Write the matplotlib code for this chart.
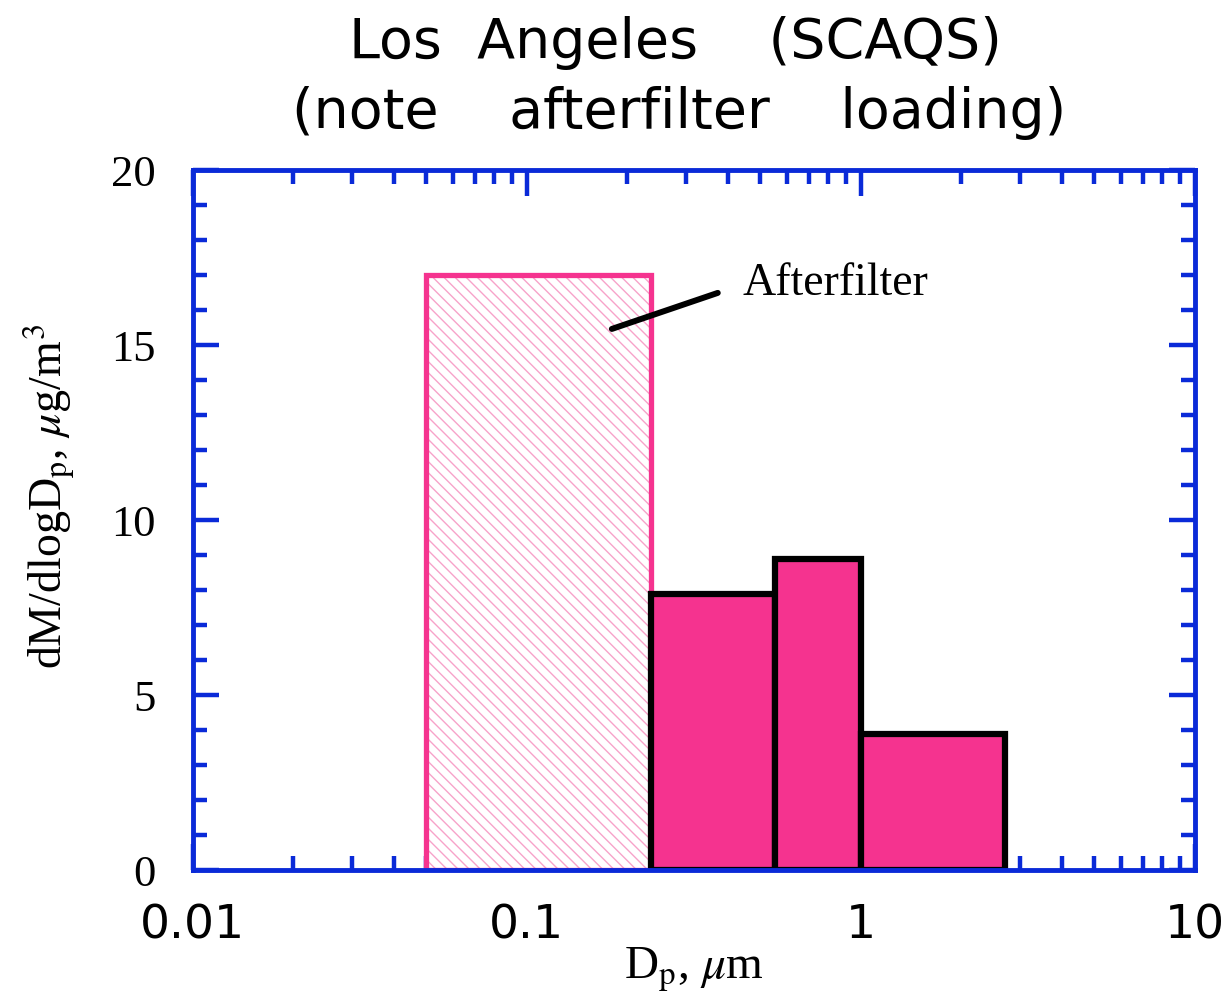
import matplotlib
matplotlib.use("Agg")
import matplotlib.pyplot as plt
from matplotlib.ticker import FixedLocator, NullFormatter, LogLocator

plt.rcParams['mathtext.fontset'] = 'stix'
plt.rcParams['hatch.linewidth'] = 1.0

# Data
bin_edges_after = [0.05, 0.235]
after_value = 17.0
bin_edges = [0.235, 0.555, 1.0, 2.7]
values = [7.9, 8.9, 3.9]
xtick_vals = [0.01, 0.1, 1, 10]
xtick_labels = ["0.01", "0.1", "1", "10"]
ytick_vals = [0, 5, 10, 15, 20]

pink = '#f5338f'
blue = '#0a2ad8'

fig = plt.figure(figsize=(12.28, 10.05), dpi=100)
ax = fig.add_axes([0.157, 0.1343, 0.816, 0.6965])

# afterfilter bar (hatched)
w_after = bin_edges_after[1] - bin_edges_after[0]
ax.bar(bin_edges_after[0], after_value, width=w_after, align='edge',
       facecolor='white', edgecolor='#f7a3c9', linewidth=0, hatch='\\\\\\', zorder=3)
ax.bar(bin_edges_after[0], after_value, width=w_after, align='edge',
       facecolor='none', edgecolor=pink, linewidth=3.8, zorder=4)

# measured bars
for i, v in enumerate(values):
    ax.bar(bin_edges[i], v, width=bin_edges[i + 1] - bin_edges[i], align='edge',
           facecolor=pink, edgecolor='black', linewidth=4.5, zorder=5)

ax.set_xscale('log')
ax.set_xlim(0.01, 10)
ax.set_ylim(0, 20)

ax.xaxis.set_major_locator(FixedLocator(xtick_vals))
ax.xaxis.set_minor_locator(LogLocator(base=10, subs=range(2, 10)))
ax.xaxis.set_minor_formatter(NullFormatter())
ax.set_xticklabels(xtick_labels, fontfamily='DejaVu Sans', fontsize=34)
ax.yaxis.set_major_locator(FixedLocator(ytick_vals))
ax.yaxis.set_minor_locator(FixedLocator(range(0, 21)))
ax.set_yticklabels([str(v) for v in ytick_vals], fontfamily='Liberation Serif', fontsize=32)

for s in ax.spines.values():
    s.set_color(blue)
    s.set_linewidth(3.5)
    s.set_zorder(10)

ax.tick_params(which='both', direction='in', top=True, right=True, color=blue, width=3.2)
ax.tick_params(which='major', length=19)
ax.tick_params(which='minor', length=10)
ax.tick_params(axis='x', which='major', pad=24)
ax.tick_params(axis='y', which='major', pad=27)

ax.set_xlabel(r'D$_\mathrm{p}$, $\mu$m', fontfamily='Liberation Serif', fontsize=34, labelpad=-2)
ax.set_ylabel(r'dM/dlogD$_\mathrm{p}$, $\mu$g/m$^3$', fontfamily='Liberation Serif', fontsize=33, labelpad=24)
ax.yaxis.label.set_y(0.534)

fig.text(0.55, 0.9423, 'Los  Angeles    (SCAQS)', ha='center', va='baseline', fontsize=40,
         fontfamily='DejaVu Sans')
fig.text(0.553, 0.8726, '(note    afterfilter    loading)', ha='center', va='baseline', fontsize=40,
         fontfamily='DejaVu Sans')

ax.annotate('', xy=(0.1797, 15.46), xytext=(0.373, 16.49),
            arrowprops=dict(arrowstyle='-', color='black', lw=4.3, shrinkA=0, shrinkB=0), zorder=8)
ax.text(0.4433, 16.43, 'Afterfilter', fontfamily='Liberation Serif', fontsize=33,
        ha='left', va='baseline')

fig.savefig('out.png', dpi=100)
